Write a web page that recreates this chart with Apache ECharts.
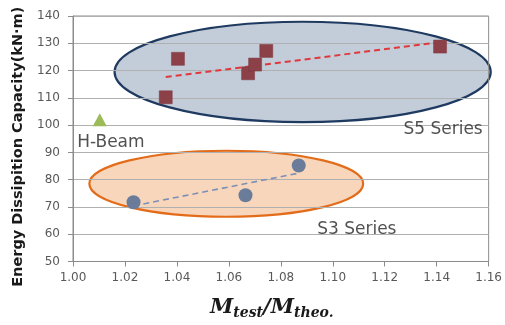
<!DOCTYPE html>
<html><head><meta charset="utf-8">
<script src="https://cdn.jsdelivr.net/npm/echarts@6/dist/echarts.min.js"></script>
<style>html,body{margin:0;padding:0;background:#fff}#c{width:505px;height:325px}</style>
</head><body><div id="c"></div>
<script>
// ---- data ----
var xTicks = [1.00, 1.02, 1.04, 1.06, 1.08, 1.10, 1.12, 1.14, 1.16];
var yTicks = [50, 60, 70, 80, 90, 100, 110, 120, 130, 140];
var s5Points = [[1.0357, 110.2], [1.0404, 124.3], [1.0674, 119.0], [1.0701, 122.2], [1.0744, 127.2], [1.1413, 128.8]];
var s5Trend = [[1.0357, 117.6], [1.1413, 130.4]];
var s3Points = [[1.0233, 71.7], [1.0664, 74.3], [1.0869, 85.2]];
var s3Trend = [[1.0233, 70.4], [1.0869, 82.4]];
var hBeam = [[1.0103, 102.0]];
// ellipse: [centerX, centerY, radiusX, radiusY] in data units
var s5Ellipse = [1.0884, 119.5, 0.0724, 18.4];
var s3Ellipse = [1.0590, 78.5, 0.0527, 12.1];
var textLabels = [
  {name: 'H-Beam', value: [1.0016, 95.1]},
  {name: 'S5 Series', value: [1.1272, 100.0]},
  {name: 'S3 Series', value: [1.0940, 63.1]}
];

var chart = echarts.init(document.getElementById('c'), null, {renderer: 'canvas'});

function ellipseSeries(e, fill, stroke) {
  return {
    type: 'custom',
    silent: true,
    z: -1,
    data: [e],
    renderItem: function (params, api) {
      var c = api.coord([api.value(0), api.value(1)]);
      var px = api.coord([api.value(0) + api.value(2), api.value(1)]);
      var py = api.coord([api.value(0), api.value(1) + api.value(3)]);
      return {
        type: 'ellipse',
        shape: {cx: c[0], cy: c[1], rx: Math.abs(px[0] - c[0]), ry: Math.abs(c[1] - py[1])},
        style: {fill: fill, stroke: stroke, lineWidth: 2.2}
      };
    }
  };
}

chart.setOption({
  animation: false,
  backgroundColor: '#fff',
  grid: {left: 73, right: 11, top: 16, bottom: 55, show: true, borderColor: '#8c8c8c', borderWidth: 1},
  xAxis: {
    type: 'value', min: 1.00, max: 1.16, interval: 0.02,
    axisLine: {show: true, lineStyle: {color: '#8c8c8c'}},
    axisTick: {show: true, length: 5, lineStyle: {color: '#8c8c8c'}},
    splitLine: {show: false},
    axisLabel: {color: '#595959', fontSize: 12, fontFamily: 'DejaVu Sans', margin: 10,
      formatter: function (v) { return v.toFixed(2); }},
    name: '{m|M}{s|test}{m|/M}{s|theo.}',
    nameLocation: 'middle', nameGap: 34,
    nameTextStyle: {
      padding: [0, 18, 0, 0],
      rich: {
        m: {fontFamily: 'DejaVu Serif', fontWeight: 'bold', fontStyle: 'italic', fontSize: 21, color: '#1a1a1a', lineHeight: 24},
        s: {fontFamily: 'DejaVu Serif', fontWeight: 'bold', fontStyle: 'italic', fontSize: 14, color: '#1a1a1a', padding: [11, 0, 0, 0], lineHeight: 24}
      }
    }
  },
  yAxis: {
    type: 'value', min: 50, max: 140, interval: 10,
    axisLine: {show: true, lineStyle: {color: '#8c8c8c'}},
    axisTick: {show: true, length: 5, lineStyle: {color: '#8c8c8c'}},
    splitLine: {show: true, lineStyle: {color: '#b0b0b0', width: 1}},
    axisLabel: {color: '#595959', fontSize: 12, fontFamily: 'DejaVu Sans', margin: 13,
      formatter: function (v) { return yTicks.indexOf(v) >= 0 ? String(v) : ''; }},
    name: 'Energy Dissipition Capacity(kN·m)',
    nameLocation: 'middle', nameGap: 47,
    nameTextStyle: {fontFamily: 'DejaVu Sans', fontWeight: 'bold', fontSize: 14.5, color: '#1a1a1a', padding: [0, 16, 0, 0]}
  },
  series: [
    ellipseSeries(s5Ellipse, '#c3cdd9', '#1f3a60'),
    ellipseSeries(s3Ellipse, '#f8d6bb', '#e36c1a'),
    {type: 'line', data: s5Trend, symbol: 'none', z: 3,
      lineStyle: {color: '#e0383c', width: 2, type: [6, 4]}},
    {type: 'line', data: s3Trend, symbol: 'none', z: 3,
      lineStyle: {color: '#7c8fb4', width: 1.6, type: [6, 4]}},
    {type: 'scatter', data: s5Points, symbol: 'rect', symbolSize: 13, z: 4,
      itemStyle: {color: '#8c4048', borderColor: '#7d3840', borderWidth: 0.5, opacity: 1}},
    {type: 'scatter', data: s3Points, symbol: 'circle', symbolSize: 14, z: 4,
      itemStyle: {color: '#6a7c99', opacity: 1}},
    {type: 'scatter', data: hBeam, symbol: 'triangle', symbolSize: [14, 13], z: 4,
      itemStyle: {color: '#9bbb59', opacity: 1}},
    {type: 'scatter', data: textLabels, symbolSize: 0, z: 5, silent: true,
      label: {show: true, position: 'right', distance: 0, offset: [0, 4], formatter: '{b}',
        fontFamily: 'DejaVu Sans', fontSize: 17, color: '#262626'}}
  ]
});
</script></body></html>
